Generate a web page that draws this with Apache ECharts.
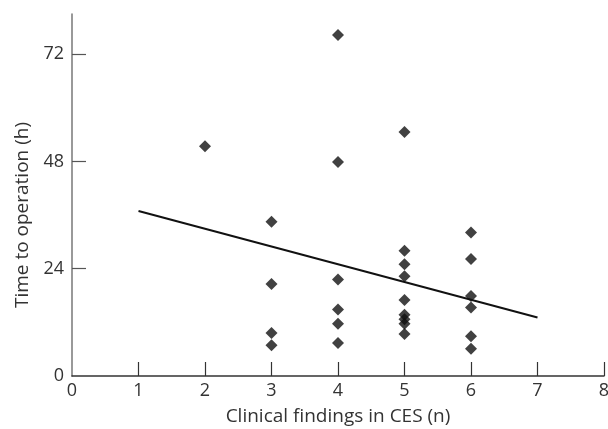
<!DOCTYPE html>
<html>
<head>
<meta charset="utf-8">
<script src="https://cdn.jsdelivr.net/npm/echarts@6/dist/echarts.min.js"></script>
<style>html,body{margin:0;padding:0;background:#fff}#c{width:608px;height:429px}</style>
</head>
<body>
<div id="c"></div>
<script>
// Data
var findings = [2, 3, 3, 3, 3, 4, 4, 4, 4, 4, 4, 5, 5, 5, 5, 5, 5, 5, 5, 5, 6, 6, 6, 6, 6, 6];
var hours    = [51.4, 34.5, 20.6, 9.6, 6.9, 76.3, 47.9, 21.6, 14.9, 11.7, 7.4, 54.6, 28.0, 25.0, 22.3, 17.0, 13.7, 12.7, 11.7, 9.4, 32.1, 26.2, 17.9, 15.3, 8.9, 6.1];
var fitX = [1, 7];
var fitY = [36.9, 13.1];
var xTicks = [0, 1, 2, 3, 4, 5, 6, 7, 8];
var yTicks = [0, 24, 48, 72];

var points = findings.map(function (x, i) { return [x, hours[i]]; });
var fit = fitX.map(function (x, i) { return [x, fitY[i]]; });

var font = 'Open Sans';
var chart = echarts.init(document.getElementById('c'), null, {renderer: 'canvas'});
chart.setOption({
  animation: false,
  grid: {left: 72, right: 4, top: 14, bottom: 53, containLabel: false, outerBoundsMode: 'none'},
  xAxis: {
    type: 'value', min: 0, max: 8, interval: 1,
    name: 'Clinical findings in CES (n)', nameLocation: 'middle', nameGap: 31,
    nameTextStyle: {fontFamily: font, fontSize: 19, color: '#333'},
    axisLine: {show: true, onZero: false, lineStyle: {color: '#333', width: 1.5}},
    axisTick: {show: true, inside: true, length: 14, lineStyle: {color: '#333', width: 1.2}, customValues: [1,2,3,4,5,6,7,8]},
    axisLabel: {fontFamily: font, fontSize: 18, color: '#333', margin: 6, customValues: xTicks},
    splitLine: {show: false}
  },
  yAxis: {
    type: 'value', min: 0, max: 81,
    name: 'Time to operation (h)', nameLocation: 'middle', nameGap: 40, nameRotate: 90,
    nameTextStyle: {fontFamily: font, fontSize: 19, color: '#333', padding: [0, 40, 0, 0]},
    axisLine: {show: true, onZero: false, lineStyle: {color: '#777', width: 1.5}},
    axisTick: {show: true, inside: true, length: 14, lineStyle: {color: '#555', width: 1.2}, customValues: [24, 48, 72]},
    axisLabel: {fontFamily: font, fontSize: 18, color: '#333', margin: 8, customValues: yTicks},
    splitLine: {show: false}
  },
  series: [
    {
      type: 'scatter', data: points, symbol: 'diamond', symbolSize: 12,
      itemStyle: {color: '#111'}, z: 3
    },
    {
      type: 'line', data: fit, showSymbol: false, symbol: 'none',
      lineStyle: {color: '#111', width: 2}, z: 2
    }
  ]
});
</script>
</body>
</html>
